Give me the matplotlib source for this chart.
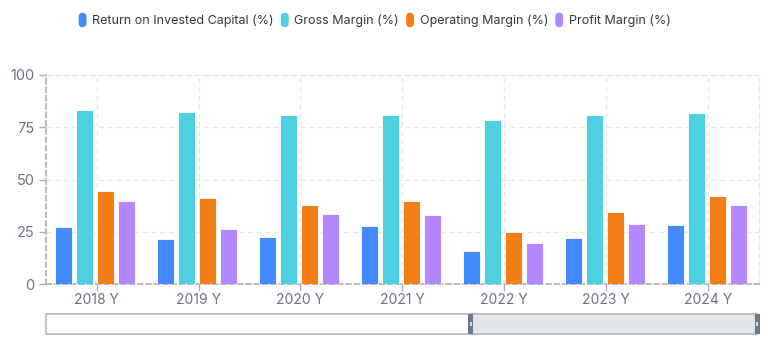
import numpy as np
import matplotlib
matplotlib.use("Agg")
import matplotlib.pyplot as plt
from matplotlib.patches import FancyBboxPatch, Rectangle
from matplotlib.legend_handler import HandlerPatch

plt.rcParams['font.family'] = ['Inter', 'DejaVu Sans']

years = ["2018 Y", "2019 Y", "2020 Y", "2021 Y", "2022 Y", "2023 Y", "2024 Y"]
series_names = ["Return on Invested Capital (%)", "Gross Margin (%)",
                "Operating Margin (%)", "Profit Margin (%)"]
roic = [27.2, 21.8, 22.6, 27.8, 15.8, 22.0, 28.4]
gross = [83.4, 82.1, 80.7, 80.8, 78.4, 80.8, 81.8]
operating = [44.6, 41.0, 38.0, 39.6, 24.9, 34.7, 42.3]
profit = [39.6, 26.2, 33.8, 33.2, 19.9, 29.0, 37.8]
colors = ["#448AFF", "#4DD0E1", "#F57F17", "#B388FF"]

W, H = 769, 345
fig = plt.figure(figsize=(W / 100, H / 100), dpi=100)
ax = fig.add_axes([45.7 / W, 60.7 / H, (759 - 45.7) / W, 209.3 / H])

x = np.arange(len(years))
bw = 0.167
pitch = 0.206
handles = []
for i, (vals, c) in enumerate(zip([roic, gross, operating, profit], colors)):
    off = (i - 1.5) * pitch - 0.012
    b = ax.bar(x + off, vals, width=bw, color=c, edgecolor="white",
               linewidth=0.6, label=series_names[i], zorder=3)
    handles.append(b)

ax.set_xlim(-0.5, 6.5)
ax.set_ylim(0, 100)
ax.set_yticks([0, 25, 50, 75, 100])
ax.set_xticks(x)
ax.set_xticklabels(years)

grid_c = "#E6E8EE"
ax.grid(axis="y", color=grid_c, linestyle=(0, (4, 3)), linewidth=0.9, zorder=0)
ax.grid(axis="x", color=grid_c, linestyle=(0, (4, 3)), linewidth=0.9, zorder=0)
ax.set_axisbelow(True)

axis_c = "#A9AEBD"
for s in ["left", "bottom"]:
    ax.spines[s].set_color(axis_c)
    ax.spines[s].set_linestyle((0, (3, 2)))
    ax.spines[s].set_linewidth(1.2)
for s in ["top", "right"]:
    ax.spines[s].set_color(grid_c)
    ax.spines[s].set_linestyle((0, (4, 3)))
    ax.spines[s].set_linewidth(0.9)

label_c = "#6B7389"
ax.tick_params(axis="y", colors=axis_c, labelcolor=label_c, labelsize=10.5,
               length=5, width=1, pad=3)
ax.tick_params(axis="x", colors=axis_c, labelcolor=label_c, labelsize=10,
               length=5, width=1, pad=1)


def rounded(legend, orig_handle, xdescent, ydescent, width, height, fontsize):
    return FancyBboxPatch((-xdescent + 1, -ydescent - 1.5), width - 2, height + 3,
                          boxstyle="round,pad=0,rounding_size=3")


leg = fig.legend([h.patches[0] for h in handles], series_names, ncol=4,
                 loc="center", bbox_to_anchor=(374 / W, 1 - 21 / H),
                 frameon=False, fontsize=9, handlelength=0.85, handleheight=0.9,
                 handletextpad=0.35, columnspacing=0.45,
                 labelcolor="#333844",
                 handler_map={matplotlib.patches.Rectangle: HandlerPatch(patch_func=rounded)})
for p in leg.get_patches():
    p.set_edgecolor("none")

# data zoom slider
sl = fig.add_axes([45.5 / W, 11 / H, (757 - 45.5) / W, 20 / H])
sl.set_xlim(0, 1)
sl.set_ylim(0, 1)
sl.axis("off")
sl.add_patch(Rectangle((0, 0), 1, 1, facecolor="white", edgecolor="#B4BAC6",
                       linewidth=1.2, clip_on=False))
start = (470.5 - 45.5) / (757 - 45.5)
sl.add_patch(Rectangle((start, 0), 1 - start, 1, facecolor="#E1E5EA",
                       edgecolor="#B4BAC6", linewidth=1.2, clip_on=False))
hw = 5 / (757 - 45.5)
for hx in [start, 1.0]:
    sl.add_patch(Rectangle((hx - hw / 2, 0), hw, 1, facecolor="#6B7A90",
                           edgecolor="none", clip_on=False))
    sl.add_patch(Rectangle((hx - hw * 0.2, 0.38), hw * 0.4, 0.24,
                           facecolor="#D7DCE3", edgecolor="none", clip_on=False))

fig.savefig("out.png", dpi=100)
